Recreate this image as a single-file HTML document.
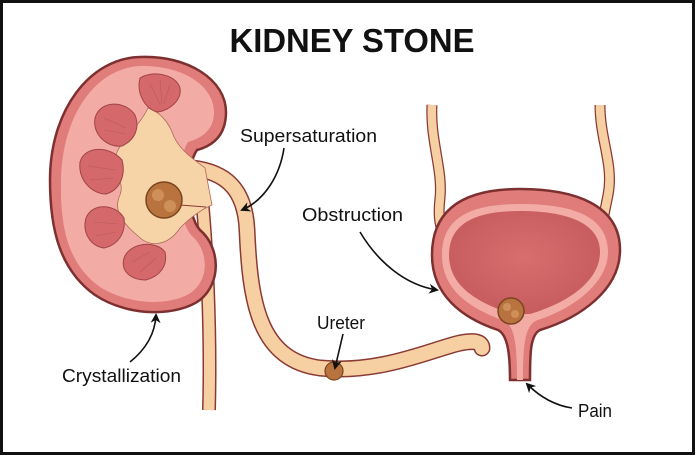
<!DOCTYPE html>
<html><head><meta charset="utf-8"><style>
html,body{margin:0;padding:0;background:#fff}
svg{display:block}
text{font-family:"Liberation Sans",Arial,sans-serif;fill:#111}
</style></head><body>
<svg width="695" height="455" viewBox="0 0 695 455" xmlns="http://www.w3.org/2000/svg">
<defs>
<marker id="ah" markerWidth="10" markerHeight="10" refX="8" refY="5" orient="auto" markerUnits="userSpaceOnUse">
<path d="M0,0 L10,5 L0,10 L3,5 Z" fill="#111"/>
</marker>
<radialGradient id="bl" cx="50%" cy="45%" r="60%"><stop offset="0" stop-color="#d96e6e"/><stop offset="1" stop-color="#c45a5c"/></radialGradient>
</defs>
<rect x="1.5" y="1.5" width="692" height="452" fill="#fff" stroke="#111" stroke-width="3"/>
<text x="352" y="52" font-size="33" font-weight="bold" text-anchor="middle" textLength="245" lengthAdjust="spacingAndGlyphs">KIDNEY STONE</text>

<!-- straight tube down -->
<path d="M200,180 C207,240 211,330 209,410" fill="none" stroke="#8a3a34" stroke-width="14"/>
<path d="M200,180 C207,240 211,330 209,410" fill="none" stroke="#f6cfa2" stroke-width="11"/>
<!-- ureter with bend -->
<path d="M192,168 C225,172 245,188 247,230 C250,300 258,360 320,368 C380,374 430,350 460,343 C475,340 482,342 482,348" fill="none" stroke="#8a3a34" stroke-width="17" stroke-linecap="round"/>
<path d="M192,168 C225,172 245,188 247,230 C250,300 258,360 320,368 C380,374 430,350 460,343 C475,340 482,342 482,348" fill="none" stroke="#f6cfa2" stroke-width="14" stroke-linecap="round"/>

<!-- kidney -->
<path d="M140,57 C188,55 226,80 226,112 C226,136 212,146 197,150 C186,165 186,215 200,230 C220,247 222,282 200,300 C178,316 130,318 95,295 C60,270 50,230 50,180 C50,110 90,58 140,57 Z" fill="#e07c79" stroke="#7e3030" stroke-width="2.5"/>
<path d="M140,66 C183,65 214,86 214,112 C214,130 202,138 188,142 C176,160 176,220 192,236 C208,250 210,278 192,292 C172,306 130,306 100,287 C68,264 60,228 61,180 C62,115 96,68 140,66 Z" fill="#f3aca5"/>
<!-- pelvis -->
<path d="M148,108 C160,112 168,122 172,132 C178,150 195,160 205,168 L212,205 C200,210 190,218 180,228 C168,246 150,248 138,236 C125,225 112,212 120,195 C126,180 108,170 118,150 C126,135 140,125 148,108 Z" fill="#f7d3a8" stroke="#b06a5a" stroke-width="0.8"/>
<!-- calyces -->
<g fill="#d4686b" stroke="#a04448" stroke-width="1">
<path d="M140,78 C152,70 176,74 180,88 C182,100 170,110 158,112 C146,110 136,94 140,78 Z"/>
<path d="M95,118 C100,100 125,100 135,115 C140,128 135,140 122,146 C108,148 92,135 95,118 Z"/>
<path d="M80,162 C85,145 110,146 122,160 C126,175 120,190 106,194 C92,194 78,180 80,162 Z"/>
<path d="M86,218 C92,202 116,204 124,218 C126,233 118,245 104,248 C90,246 82,232 86,218 Z"/>
<path d="M124,258 C130,242 156,240 165,252 C168,266 160,276 146,280 C132,280 120,272 124,258 Z"/>
</g>
<g stroke="#b85a5c" stroke-width="0.6" fill="none">
<path d="M150,84 L160,104 M160,80 L162,104 M170,84 L164,104"/>
<path d="M104,118 L126,128 M104,130 L126,134"/>
<path d="M88,166 L116,170 M90,180 L114,178"/>
<path d="M94,222 L118,224 M96,236 L116,232"/>
<path d="M132,262 L150,252 M140,272 L156,258"/>
</g>
<line x1="180" y1="205" x2="206" y2="207" stroke="#8a3a34" stroke-width="1"/>
<circle cx="164" cy="200" r="18" fill="#b8733f" stroke="#7a4520" stroke-width="1.5"/>
<circle cx="158" cy="195" r="6" fill="#cf8f58"/><circle cx="170" cy="206" r="6" fill="#cf8f58"/>

<!-- bladder ureters -->
<path d="M432,105 C430,140 443,170 440,198 C438,215 440,225 442,230" fill="none" stroke="#8a3a34" stroke-width="11"/>
<path d="M432,105 C430,140 443,170 440,198 C438,215 440,225 442,230" fill="none" stroke="#f6cfa2" stroke-width="8.5"/>
<path d="M600,105 C600,140 614,165 608,195 L604,215" fill="none" stroke="#8a3a34" stroke-width="11"/>
<path d="M600,105 C600,140 614,165 608,195 L604,215" fill="none" stroke="#f6cfa2" stroke-width="8.5"/>
<!-- bladder -->
<path d="M520,189 C575,189 620,205 620,250 C620,290 580,318 540,330 C530,335 530,355 530,380 L510,380 C510,355 508,335 498,330 C462,318 432,295 432,255 C432,205 470,189 520,189 Z" fill="#e07c79" stroke="#7e3030" stroke-width="2.5"/>
<path d="M520,204 C570,204 608,215 608,252 C608,282 575,308 538,320 C526,324 523,340 523,380 L517,380 C517,340 514,324 502,320 C470,308 442,290 442,255 C442,215 475,204 520,204 Z" fill="#f3aca5"/>
<path d="M520,211 C565,211 600,222 600,252 C600,280 570,302 530,314 L512,314 C475,302 449,285 449,255 C449,222 478,211 520,211 Z" fill="url(#bl)"/>
<circle cx="511" cy="311" r="13" fill="#b8733f" stroke="#7a4520" stroke-width="1.5"/>
<circle cx="507" cy="307" r="4" fill="#cf8f58"/><circle cx="515" cy="314" r="4" fill="#cf8f58"/>
<circle cx="334" cy="371" r="9" fill="#b8733f" stroke="#7a4520" stroke-width="1.2"/>

<!-- labels -->
<text x="240" y="142" font-size="18" textLength="137" lengthAdjust="spacingAndGlyphs">Supersaturation</text>
<text x="302" y="221" font-size="18" textLength="101" lengthAdjust="spacingAndGlyphs">Obstruction</text>
<text x="317" y="329" font-size="18" textLength="48" lengthAdjust="spacingAndGlyphs">Ureter</text>
<text x="62" y="382" font-size="18" textLength="119" lengthAdjust="spacingAndGlyphs">Crystallization</text>
<text x="578" y="417" font-size="18" textLength="34" lengthAdjust="spacingAndGlyphs">Pain</text>

<g fill="none" stroke="#111" stroke-width="1.6">
<path d="M284,148 C280,175 265,200 242,210" marker-end="url(#ah)"/>
<path d="M360,232 C378,262 405,285 437,290" marker-end="url(#ah)"/>
<path d="M343,334 L335,368" marker-end="url(#ah)"/>
<path d="M130,362 C145,350 155,335 156,315" marker-end="url(#ah)"/>
<path d="M572,408 C552,405 538,395 527,384" marker-end="url(#ah)"/>
</g>
</svg>
</body></html>
